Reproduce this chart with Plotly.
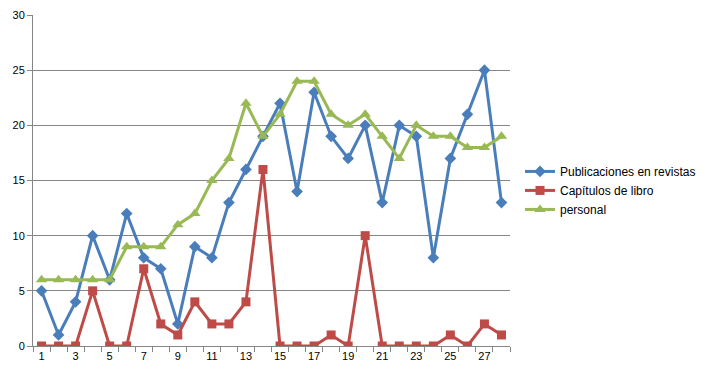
import plotly.graph_objects as go

x = list(range(1, 29))
revistas = [5, 1, 4, 10, 6, 12, 8, 7, 2, 9, 8, 13, 16, 19, 22, 14, 23, 19, 17, 20, 13, 20, 19, 8, 17, 21, 25, 13]
capitulos = [0, 0, 0, 5, 0, 0, 7, 2, 1, 4, 2, 2, 4, 16, 0, 0, 0, 1, 0, 10, 0, 0, 0, 0, 1, 0, 2, 1]
personal = [6, 6, 6, 6, 6, 9, 9, 9, 11, 12, 15, 17, 22, 19, 21, 24, 24, 21, 20, 21, 19, 17, 20, 19, 19, 18, 18, 19]
names = ["Publicaciones en revistas", "Capítulos de libro", "personal"]
xtick_vals = list(range(1, 29, 2))

fig = go.Figure()
fig.add_trace(go.Scatter(x=x, y=revistas, name=names[0], mode="lines+markers",
                         line=dict(color="#4A7EBB", width=3),
                         marker=dict(symbol="diamond", size=9, color="#4A7EBB")))
fig.add_trace(go.Scatter(x=x, y=capitulos, name=names[1], mode="lines+markers",
                         line=dict(color="#BE4B48", width=3),
                         marker=dict(symbol="square", size=9, color="#BE4B48")))
fig.add_trace(go.Scatter(x=x, y=personal, name=names[2], mode="lines+markers",
                         line=dict(color="#98B954", width=3),
                         marker=dict(symbol="triangle-up", size=10, color="#98B954")))

fig.update_layout(
    width=700, height=373,
    margin=dict(l=25, r=198, t=7, b=35),
    paper_bgcolor="white", plot_bgcolor="white",
    font=dict(family="Liberation Sans, Arial, sans-serif", size=11, color="#000000"),
    showlegend=True,
    legend=dict(x=1.021, y=0.47, xanchor="left", yanchor="middle",
                font=dict(size=12), itemwidth=30),
    xaxis=dict(range=[0.5, 28.5], tickmode="array", tickvals=xtick_vals,
               ticktext=[str(v) for v in xtick_vals],
               showgrid=False, showline=True, linecolor="#868686", linewidth=1,
               ticks="", zeroline=False, fixedrange=True, automargin=False),
    yaxis=dict(range=[0, 30], dtick=5, showgrid=True, gridcolor="#868686", gridwidth=1,
               showline=True, linecolor="#868686", linewidth=1,
               ticks="outside", ticklen=5, tickcolor="#868686",
               zeroline=False, fixedrange=True, automargin=False),
)

# minor ticks at category boundaries on x
fig.update_xaxes(minor=dict(tickmode="array", tickvals=[v + 0.5 for v in range(0, 29)],
                            ticks="outside", ticklen=5, tickcolor="#868686", showgrid=False))

fig.write_html("out.html")
